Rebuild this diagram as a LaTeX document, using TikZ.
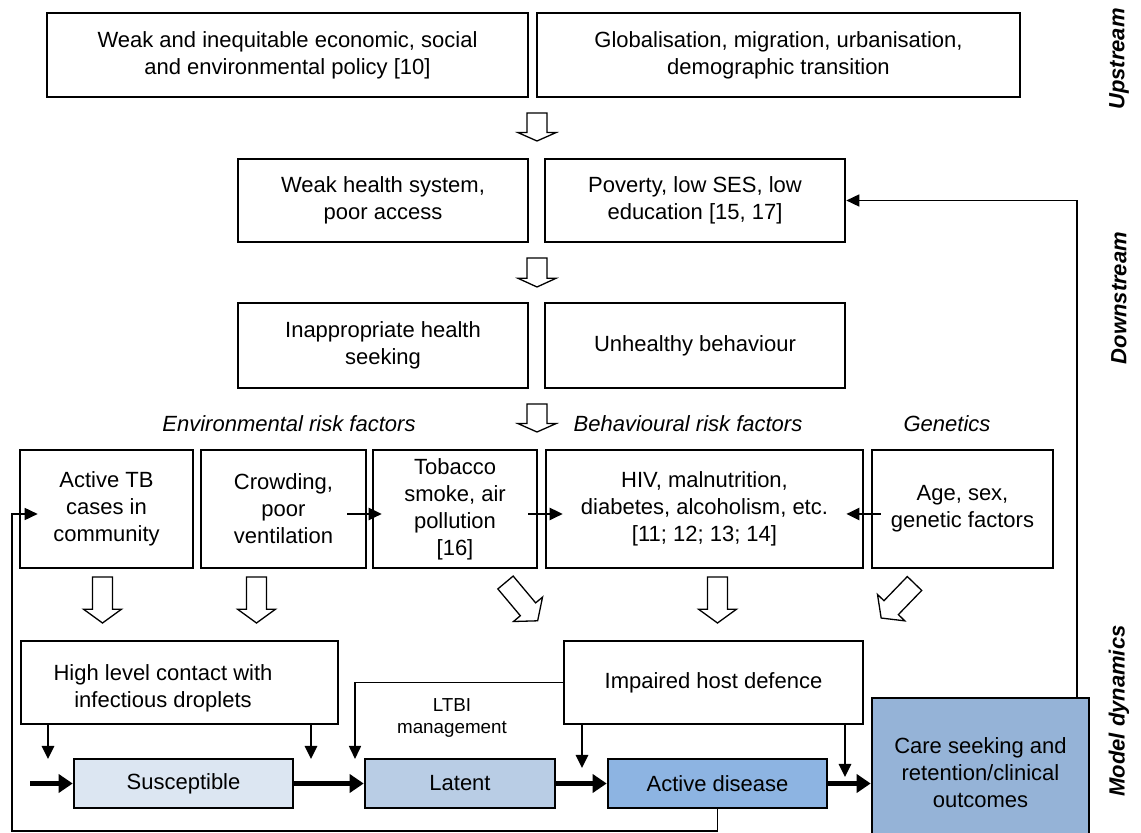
\documentclass[tikz,border=0pt]{standalone}
\usepackage{fontspec}
\setmainfont{Liberation Sans}
\usepackage{tikz}
\usetikzlibrary{arrows.meta, calc}
\definecolor{susfill}{RGB}{220, 230, 242}
\definecolor{latfill}{RGB}{185, 205, 229}
\definecolor{actfill}{RGB}{141, 180, 226}
\definecolor{carefill}{RGB}{149, 179, 215}

\tikzset{
  box/.style={draw=black, line width=1.3pt, align=center, inner sep=0pt, font=\fontsize{11}{13.5}\selectfont},
  plain/.style={align=center, inner sep=0pt, font=\fontsize{11}{13.5}\selectfont},
  note/.style={inner sep=0pt, font=\fontsize{11}{13.5}\selectfont\itshape},
  side/.style={inner sep=0pt, font=\fontsize{11}{13}\selectfont\bfseries\itshape, rotate=90},
  small/.style={align=center, inner sep=0pt, font=\fontsize{9.4}{11}\selectfont},
  link/.style={line width=1.3pt, -{Triangle[length=6.5pt, width=6pt]}},
  back/.style={line width=0.8pt, -{Triangle[length=6.5pt, width=6pt]}},
  flow/.style={line width=2.8pt, -{Triangle[length=7pt, width=9pt]}},
  pics/hollow/.style={code={
    \draw[line width=0.65pt, fill=white] (-10,0) -- (-10,0.7*#1) -- (-19,0.7*#1) -- (0,#1)
      -- (19,0.7*#1) -- (10,0.7*#1) -- (10,0) -- cycle;}}
}

\begin{document}
\begin{tikzpicture}[x=0.5pt, y=-0.5pt]
  \useasboundingbox (0,0) rectangle (1141,833);

  \node[box, minimum width=240.5pt, minimum height=42pt] (policy) at (287.5,55)
    {Weak and inequitable economic, social\\and environmental policy [10]};
  \node[box, minimum width=241.5pt, minimum height=42pt] (glob) at (778.5,55)
    {Globalisation, migration, urbanisation,\\demographic transition};
  \node[box, minimum width=145pt, minimum height=41.5pt] (hsys) at (383,200.5)
    {Weak health system,\\poor access};
  \node[box, minimum width=150pt, minimum height=41.5pt] (pov) at (695,200.5)
    {Poverty, low SES, low\\education [15, 17]};
  \node[box, minimum width=145pt, minimum height=42.5pt] (seek) at (383,345.5)
    {Inappropriate health\\seeking};
  \node[box, minimum width=150pt, minimum height=42.5pt] (unh) at (695,345.5)
    {Unhealthy behaviour};

  \node[note] (envlab) at (289,424) {Environmental risk factors};
  \node[note] (behlab) at (688,424) {Behavioural risk factors};
  \node[note] (genlab) at (947,424) {Genetics};

  \node[box, minimum width=86.5pt, minimum height=59pt] (tb) at (106.5,509)
    {Active TB\\cases in\\community};
  \node[box, minimum width=82.5pt, minimum height=59pt] (crowd) at (283.5,509)
    {Crowding,\\poor\\ventilation};
  \node[box, minimum width=82pt, minimum height=59pt] (tob) at (455,509)
    {Tobacco\\smoke, air\\pollution\\{}[16]};
  \node[box, minimum width=158.5pt, minimum height=59pt] (hiv) at (704.5,509)
    {HIV, malnutrition,\\diabetes, alcoholism, etc.\\{}[11; 12; 13; 14]};
  \node[box, minimum width=90.5pt, minimum height=59pt] (gen) at (962.5,509)
    {Age, sex,\\genetic factors};

  \pic at (537,113) {hollow=28};
  \pic at (537,258) {hollow=29};
  \pic at (537,404) {hollow=28};
  \pic at (102.5,577) {hollow=46};
  \pic at (256.5,577) {hollow=46};
  \pic at (717.5,577) {hollow=46};
  \pic[rotate=40] at (505.5,582.5) {hollow=50};
  \pic[rotate=-44] at (914.5,583.5) {hollow=48};

  \node[box, minimum width=158.5pt, minimum height=41.5pt] (contact) at (179.5,682.5) {};
  \node[plain] (contacttext) at (163,688) {High level contact with\\infectious droplets};
  \node[box, minimum width=149.5pt, minimum height=41.5pt] (imp) at (713.5,682.5)
    {Impaired host defence};
  \node[small] (ltbi) at (452,718) {LTBI\\management};

  \node[box, fill=susfill, minimum width=109.5pt, minimum height=24.5pt] (sus) at (183.5,783.5) {Susceptible};
  \node[box, fill=latfill, minimum width=95pt, minimum height=24.5pt] (lat) at (460,783.5) {Latent};
  \node[box, fill=actfill, minimum width=109.5pt, minimum height=24.5pt] (act) at (717.5,783.5) {Active disease};
  \node[box, fill=carefill, minimum width=108.5pt, minimum height=75pt] (care) at (980.5,773)
    {Care seeking and\\retention/clinical\\outcomes};

  \node[side] (up) at (1119,59) {Upstream};
  \node[side] (down) at (1119,298) {Downstream};
  \node[side] (model) at (1119,711) {Model dynamics};

  \coordinate (tipA) at (48,759);
  \coordinate (tipB) at (311,759);
  \coordinate (tipC) at (355,759);
  \coordinate (tipD) at (582,768);
  \coordinate (tipE) at (845,777);
  \coordinate (start) at (30,783.5);
  \coordinate (loop) at (12,831);

  \draw[link] (tipA |- contact.south) -- (tipA);
  \draw[link] (tipB |- contact.south) -- (tipB);
  \draw[back] (imp.west) -| (tipC);
  \draw[link] (tipD |- imp.south) -- (tipD);
  \draw[link] (tipE |- imp.south) -- (tipE);

  \draw[link] ($(crowd.east)+(-20,5)$) -- ($(tob.west)+(10,5)$);
  \draw[link] ($(tob.east)+(-10,5)$) -- ($(hiv.west)+(18,5)$);
  \draw[link] ($(gen.west)+(10,5)$) -- ($(hiv.east)+(-18,5)$);

  \draw[flow] (start) -- (sus.west);
  \draw[flow] (sus) -- (lat);
  \draw[flow] (lat) -- (act);
  \draw[flow] (act.east) -- (act.east -| care.west);

  \draw[back] (act.south) |- (loop) |- ($(tb.west)+(19,5)$);
  \draw[back] ($(care.north west)+(206,0)$) |- (pov.east);
\end{tikzpicture}
\end{document}
